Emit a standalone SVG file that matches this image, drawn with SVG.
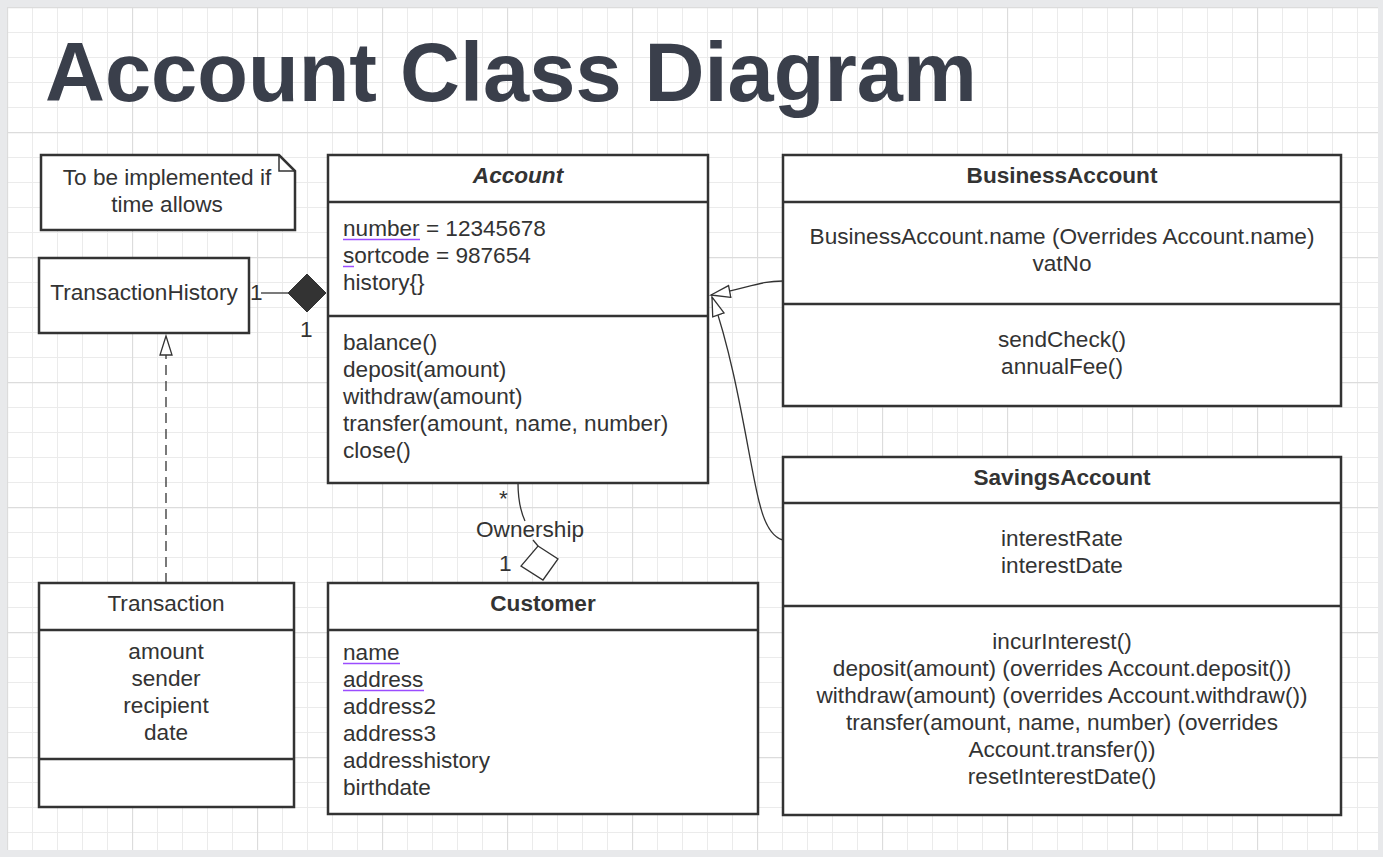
<svg xmlns="http://www.w3.org/2000/svg" width="1383" height="857" viewBox="0 0 1383 857">
<defs>
<pattern id="minor" x="7" y="7" width="25" height="25" patternUnits="userSpaceOnUse">
<path d="M0,0.5 H25 M0.5,0 V25" fill="none" stroke="#ebebeb" stroke-width="1"/>
</pattern>
<pattern id="major" x="7" y="7" width="125" height="125" patternUnits="userSpaceOnUse">
<path d="M0,0.5 H125 M0.5,0 V125" fill="none" stroke="#dcdcdc" stroke-width="1.3"/>
</pattern>
<marker id="gen" markerWidth="24" markerHeight="16" refX="20" refY="7" orient="auto" markerUnits="userSpaceOnUse" viewBox="0 0 24 16">
<path d="M1,1 L20,7 L1,13 Z" fill="#fff" stroke="#333" stroke-width="1.3"/>
</marker>
</defs>
<style>
.box{fill:#fff;stroke:#333;stroke-width:2.5}
.div{stroke:#333;stroke-width:2.5}
.t{font-family:"Liberation Sans",Arial,sans-serif;font-size:22.6px;fill:#333}
.c{text-anchor:middle}
.b{font-weight:bold}
.con{fill:none;stroke:#333;stroke-width:1.3}
.ul{stroke:#9b4dff;stroke-width:1.5}
</style>
<rect x="0" y="0" width="1383" height="857" fill="#e8e9eb"/>
<rect x="7" y="7" width="1371" height="843" fill="#fff"/>
<rect x="7" y="7" width="1371" height="843" fill="url(#minor)"/>
<rect x="7" y="7" width="1371" height="843" fill="url(#major)"/>

<text x="45" y="101" font-family="Liberation Sans,Arial,sans-serif" font-size="83" font-weight="bold" fill="#3a3f4b">Account Class Diagram</text>

<g id="note">
<path d="M41,155 H279 L295,171 V230 H41 Z" class="box"/>
<path d="M279,155 V171 H295" fill="none" stroke="#333" stroke-width="1.5"/>
<text class="t c" x="167" y="185">To be implemented if</text>
<text class="t c" x="167" y="212">time allows</text>
</g>

<g id="connectors">
<line x1="261" y1="293" x2="290" y2="293" class="con"/>
<path d="M288,293 L307,274 L326,293 L307,312 Z" fill="#333" stroke="#333" stroke-width="1"/>
<text class="t" x="250" y="300">1</text>
<text class="t" x="300" y="337">1</text>

<line x1="166" y1="583" x2="166" y2="355" class="con" stroke-dasharray="10,6"/>
<path d="M166,336 L172,355 L160,355 Z" fill="#fff" stroke="#333" stroke-width="1.3"/>

<path d="M518,483 C518,500 520,510 525,521" class="con"/>
<path d="M533,540 L538,546" class="con"/>
<path d="M538,546 L558,559 L543,580 L521,566 Z" fill="#fff" stroke="#333" stroke-width="1.3"/>
<text class="t c" x="530" y="537">Ownership</text>
<text class="t" x="499" y="506">*</text>
<text class="t" x="499" y="571">1</text>

<path d="M783,281 C760,281 748,288 711,295" class="con" marker-end="url(#gen)"/>
<path d="M783,540 C772,537 765,525 760,505 C750,470 738,370 712,297" class="con" marker-end="url(#gen)"/>
</g>

<g id="TransactionHistory">
<rect x="39" y="258" width="210" height="75" class="box"/>
<text class="t c" x="144" y="300">TransactionHistory</text>
</g>

<g id="Account">
<rect x="328" y="155" width="380" height="328" class="box"/>
<line x1="328" y1="202" x2="708" y2="202" class="div"/>
<line x1="328" y1="316" x2="708" y2="316" class="div"/>
<text class="t c b" x="518" y="183" font-style="italic">Account</text>
<text class="t" x="343" y="236">number = 12345678</text>
<line x1="343" y1="239.5" x2="420" y2="239.5" class="ul"/>
<text class="t" x="343" y="263">sortcode = 987654</text>
<line x1="343" y1="266.5" x2="354" y2="266.5" class="ul"/>
<text class="t" x="343" y="290">history{}</text>
<text class="t" x="343" y="350">balance()</text>
<text class="t" x="343" y="377">deposit(amount)</text>
<text class="t" x="343" y="404">withdraw(amount)</text>
<text class="t" x="343" y="431">transfer(amount, name, number)</text>
<text class="t" x="343" y="458">close()</text>
</g>

<g id="BusinessAccount">
<rect x="783" y="155" width="558" height="251" class="box"/>
<line x1="783" y1="202" x2="1341" y2="202" class="div"/>
<line x1="783" y1="304" x2="1341" y2="304" class="div"/>
<text class="t c b" x="1062" y="183">BusinessAccount</text>
<text class="t c" x="1062" y="244">BusinessAccount.name (Overrides Account.name)</text>
<text class="t c" x="1062" y="271">vatNo</text>
<text class="t c" x="1062" y="347">sendCheck()</text>
<text class="t c" x="1062" y="374">annualFee()</text>
</g>

<g id="SavingsAccount">
<rect x="783" y="457" width="558" height="358" class="box"/>
<line x1="783" y1="503" x2="1341" y2="503" class="div"/>
<line x1="783" y1="606" x2="1341" y2="606" class="div"/>
<text class="t c b" x="1062" y="485">SavingsAccount</text>
<text class="t c" x="1062" y="546">interestRate</text>
<text class="t c" x="1062" y="573">interestDate</text>
<text class="t c" x="1062" y="649">incurInterest()</text>
<text class="t c" x="1062" y="676">deposit(amount) (overrides Account.deposit())</text>
<text class="t c" x="1062" y="703">withdraw(amount) (overrides Account.withdraw())</text>
<text class="t c" x="1062" y="730">transfer(amount, name, number) (overrides</text>
<text class="t c" x="1062" y="757">Account.transfer())</text>
<text class="t c" x="1062" y="784">resetInterestDate()</text>
</g>

<g id="Transaction">
<rect x="39" y="583" width="255" height="224" class="box"/>
<line x1="39" y1="630" x2="294" y2="630" class="div"/>
<line x1="39" y1="759" x2="294" y2="759" class="div"/>
<text class="t c" x="166" y="611">Transaction</text>
<text class="t c" x="166" y="659">amount</text>
<text class="t c" x="166" y="686">sender</text>
<text class="t c" x="166" y="713">recipient</text>
<text class="t c" x="166" y="740">date</text>
</g>

<g id="Customer">
<rect x="328" y="583" width="430" height="231" class="box"/>
<line x1="328" y1="630" x2="758" y2="630" class="div"/>
<text class="t c b" x="543" y="611">Customer</text>
<text class="t" x="343" y="660">name</text>
<line x1="343" y1="663.5" x2="400" y2="663.5" class="ul"/>
<text class="t" x="343" y="687">address</text>
<line x1="343" y1="690.5" x2="424" y2="690.5" class="ul"/>
<text class="t" x="343" y="714">address2</text>
<text class="t" x="343" y="741">address3</text>
<text class="t" x="343" y="768">addresshistory</text>
<text class="t" x="343" y="795">birthdate</text>
</g>
</svg>
